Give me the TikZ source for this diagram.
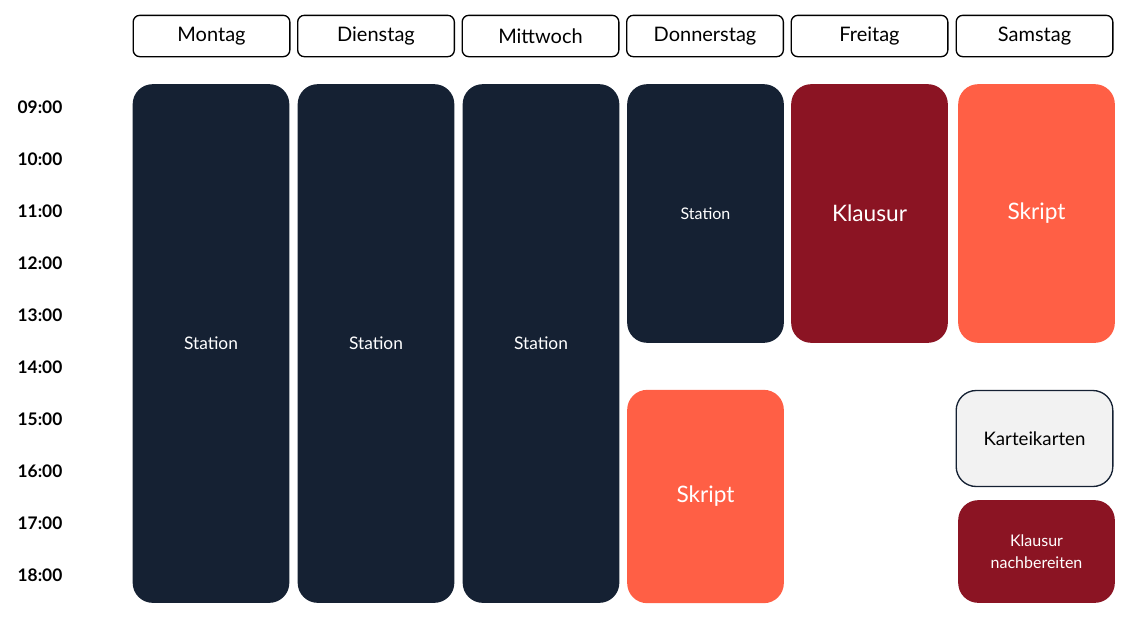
\documentclass[tikz,border=0pt]{standalone}
\usepackage{fontspec}
\setmainfont{Lato}
\usetikzlibrary{positioning}
\definecolor{navy}{HTML}{152133}
\definecolor{wine}{HTML}{8B1423}
\definecolor{coral}{HTML}{FF5F45}
\definecolor{paper}{HTML}{F2F2F2}
\tikzset{
  day/.style={draw, rounded corners=5pt, line width=1pt, minimum width=117.5pt, minimum height=31pt, font=\fontsize{15}{18}\selectfont},
  slot/.style={rounded corners=15pt, minimum width=117.5pt, text=white, align=center},
  hour/.style={font=\bfseries\fontsize{13}{15}\selectfont}
}
\begin{document}
\begin{tikzpicture}[x=0.75pt, y=-0.75pt]
\useasboundingbox (0,0) rectangle (1130,618);
% header row
\node[day] (mo) at (211.5,36) {Montag};
\node[day] (di) at (376,36) {Dienstag};
\node[day] (mi) at (540.5,36) {Mittwoch};
\node[day] (do) at (705,36) {Donnerstag};
\node[day] (fr) at (869.5,36) {Freitag};
\node[day] (sa) at (1034.5,36) {Samstag};
% hours
\foreach \h [count=\i from 0] in {09,10,11,12,13,14,15,16,17,18}
  \node[hour] (h\h) at (40,107+52*\i) {\h:00};
% blocks
\node[slot, fill=navy, minimum height=389pt, font=\fontsize{13}{15}\selectfont] (st1) at (211,343.5) {Station};
\node[slot, fill=navy, minimum height=389pt, font=\fontsize{13}{15}\selectfont] (st2) at (376,343.5) {Station};
\node[slot, fill=navy, minimum height=389pt, font=\fontsize{13}{15}\selectfont] (st3) at (541,343.5) {Station};
\node[slot, fill=navy, minimum height=194pt, font=\fontsize{12}{14}\selectfont] (st4) at (705.5,213.5) {Station};
\node[slot, fill=coral, minimum height=160pt, font=\fontsize{17}{20}\selectfont] (sk1) at (705.5,496.5) {Skript};
\node[slot, fill=wine, minimum height=194pt, font=\fontsize{17}{20}\selectfont] (kl1) at (869.5,213.5) {Klausur};
\node[slot, fill=coral, minimum height=194pt, font=\fontsize{17}{20}\selectfont] (sk2) at (1036.5,213.5) {Skript};
\node[slot, fill=paper, draw=navy, line width=1pt, text=black, minimum height=72pt, font=\fontsize{14}{17}\selectfont] (ka) at (1034.5,438.5) {Karteikarten};
\node[slot, fill=wine, minimum height=77pt, font=\fontsize{12}{17}\selectfont] (kl2) at (1036.5,551.5) {Klausur\\nachbereiten};
\end{tikzpicture}
\end{document}
